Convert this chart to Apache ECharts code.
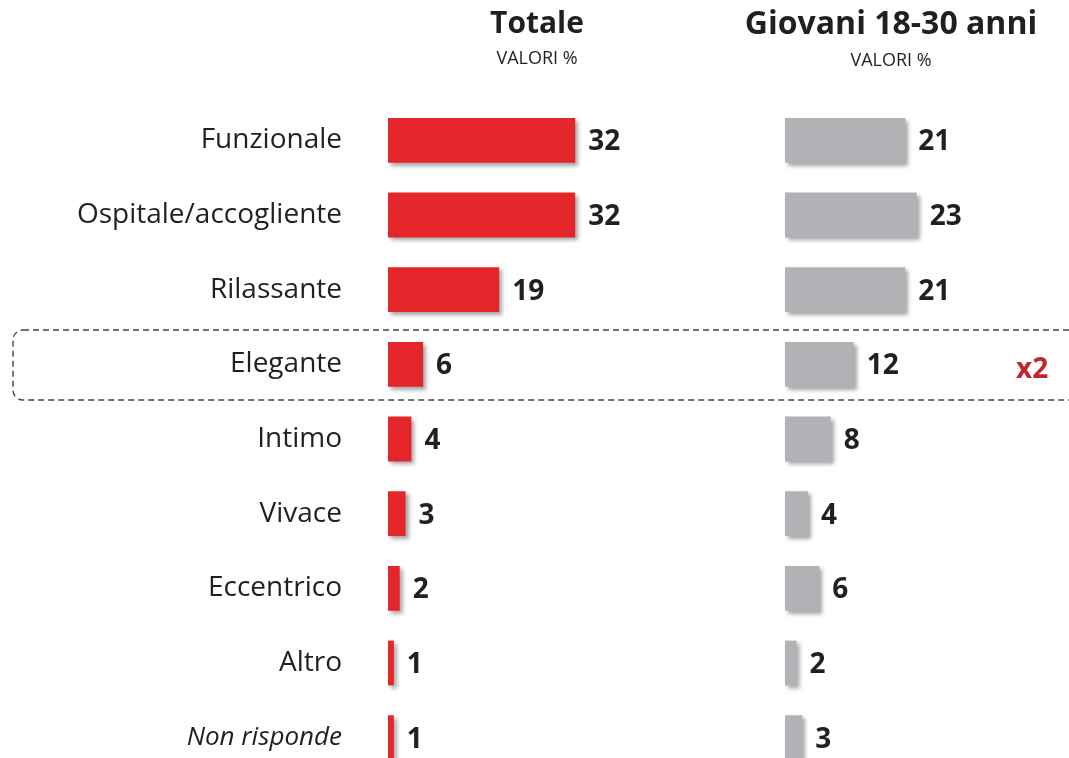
<!DOCTYPE html>
<html>
<head>
<meta charset="utf-8">
<script src="https://cdn.jsdelivr.net/npm/echarts@6/dist/echarts.min.js"></script>
<style>html,body{margin:0;padding:0;background:#fff;}#c{width:1069px;height:758px;}</style>
</head>
<body>
<div id="c"></div>
<script>
var categories = ['Funzionale','Ospitale/accogliente','Rilassante','Elegante','Intimo','Vivace','Eccentrico','Altro','Non risponde'];
var totale = [32, 32, 19, 6, 4, 3, 2, 1, 1];
var giovani = [21, 23, 21, 12, 8, 4, 6, 2, 3];
var titles = ['Totale', 'Giovani 18-30 anni'];
var subtitle = 'VALORI %';
var note = 'x2';

var FONT = '"Open Sans", sans-serif';
var chart = echarts.init(document.getElementById('c'), null, {renderer: 'canvas'});

var catData = categories.map(function (c, i) {
  return i === categories.length - 1 ? {value: c, textStyle: {fontStyle: 'italic', fontSize: 26}} : c;
});

function labelCfg() {
  return {show: true, position: 'right', distance: 13, fontFamily: FONT, fontSize: 28, fontWeight: 'bold', color: '#231f20', offset: [0, 2]};
}
function shadowStyle(color) {
  return {color: color, shadowColor: 'rgba(0,0,0,0.35)', shadowBlur: 4, shadowOffsetX: 3, shadowOffsetY: 3};
}

chart.setOption({
  animation: false,
  backgroundColor: '#fff',
  title: [
    {text: titles[0], subtext: subtitle, left: 532, top: 4, textAlign: 'center', itemGap: 11,
     textStyle: {fontFamily: FONT, fontSize: 30, fontWeight: 'bold', color: '#231f20'},
     subtextStyle: {fontFamily: FONT, fontSize: 18, color: '#231f20'}},
    {text: titles[1], subtext: subtitle, left: 886, top: 4, textAlign: 'center', itemGap: 11,
     textStyle: {fontFamily: FONT, fontSize: 32, fontWeight: 'bold', color: '#231f20'},
     subtextStyle: {fontFamily: FONT, fontSize: 18, color: '#231f20'}}
  ],
  grid: [
    {left: 388, width: 234, top: 103, height: 672, outerBoundsMode: 'none'},
    {left: 785, width: 229, top: 103, height: 672, outerBoundsMode: 'none'}
  ],
  xAxis: [
    {gridIndex: 0, type: 'value', min: 0, max: 40, show: false},
    {gridIndex: 1, type: 'value', min: 0, max: 40, show: false}
  ],
  yAxis: [
    {gridIndex: 0, type: 'category', inverse: true, data: catData,
     axisLine: {show: false}, axisTick: {show: false}, splitLine: {show: false},
     axisLabel: {margin: 46, fontFamily: FONT, fontSize: 28, color: '#231f20'}},
    {gridIndex: 1, type: 'category', inverse: true, data: categories, show: false}
  ],
  series: [
    {type: 'bar', xAxisIndex: 0, yAxisIndex: 0, data: totale, barWidth: '60%',
     itemStyle: shadowStyle('#e4262a'), label: labelCfg()},
    {type: 'bar', xAxisIndex: 1, yAxisIndex: 1, data: giovani, barWidth: '60%',
     itemStyle: shadowStyle('#b1b2b5'), label: labelCfg()}
  ],
  graphic: [
    {type: 'rect', shape: {x: 13, y: 330, width: 1080, height: 70, r: 10},
     style: {fill: 'none', stroke: '#444', lineWidth: 1.4, lineDash: [6, 4]}, z: -1},
    {type: 'text', left: 1016, top: 356,
     style: {text: note, fontFamily: FONT, fontSize: 28, fontWeight: 'bold', fill: '#c0272d'}}
  ]
});
</script>
</body>
</html>
